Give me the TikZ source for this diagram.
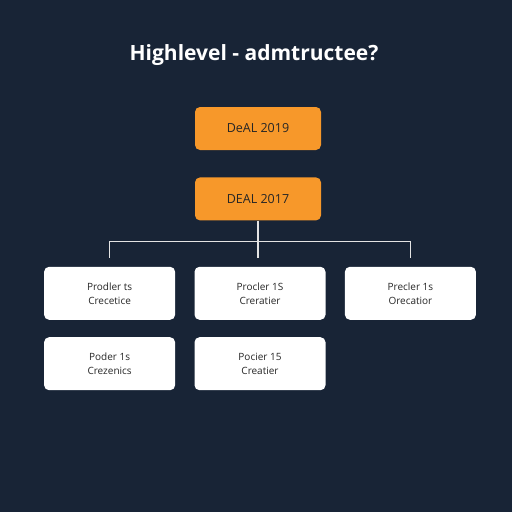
\documentclass[tikz,border=0pt]{standalone}
\usepackage{fontspec}
\setmainfont{Open Sans}
\usepackage{xcolor}
\usetikzlibrary{positioning, calc}

\definecolor{fondo}{RGB}{24,36,54}
\definecolor{naranja}{RGB}{247,152,42}
\definecolor{linea}{RGB}{228,228,228}

\begin{document}
\begin{tikzpicture}[
		x=1pt, y=1pt,
		node distance=27pt and 19pt,
		baseBox/.style={rectangle, rounded corners=5pt, align=center, inner sep=0pt},
		dealBox/.style={baseBox, fill=naranja, minimum width=126pt, minimum height=43pt, font=\fontsize{12.5}{14}\selectfont, text=black!85},
		itemBox/.style={baseBox, fill=white, minimum width=131pt, minimum height=53pt, font=\fontsize{10}{14}\selectfont, text=black!85},
		link/.style={draw=linea, line width=1.2pt}
		]

		% Fondo
		\fill[fondo] (0,0) rectangle (512,-512);
		\useasboundingbox (0,0) rectangle (512,-512);

		% Nodos
		\node[font=\fontsize{21}{24}\selectfont\bfseries, text=white] (title) at (254,-55) {Highlevel - admtructee?};
		\node[dealBox] (deal19) at (258,-128.5) {DeAL 2019};
		\node[dealBox, below=of deal19] (deal17) {DEAL 2017};
		\node[itemBox, below=46pt of deal17, xshift=2pt] (item2) {Procler 1S\\Creratier};
		\node[itemBox, left=of item2] (item1) {Prodler ts\\Crecetice};
		\node[itemBox, right=of item2] (item3) {Precler 1s\\Orecatior};
		\node[itemBox, below=17pt of item1] (item4) {Poder 1s\\Crezenics};
		\node[itemBox, below=17pt of item2] (item5) {Pocier 15\\Creatier};

		% Lineas
		\coordinate (split) at ($(deal17.south)+(0,-21)$);
		\coordinate (drop1) at ($(item1.north)+(0,9)$);
		\coordinate (drop2) at ($(item2.north)+(0,9)$);
		\coordinate (drop3) at ($(item3.north)+(0,9)$);
		\draw[link] (deal17.south) -- (split) -- (split |- drop2);
		\draw[link] (drop1) |- (split) -| (drop3);

	\end{tikzpicture}
\end{document}
